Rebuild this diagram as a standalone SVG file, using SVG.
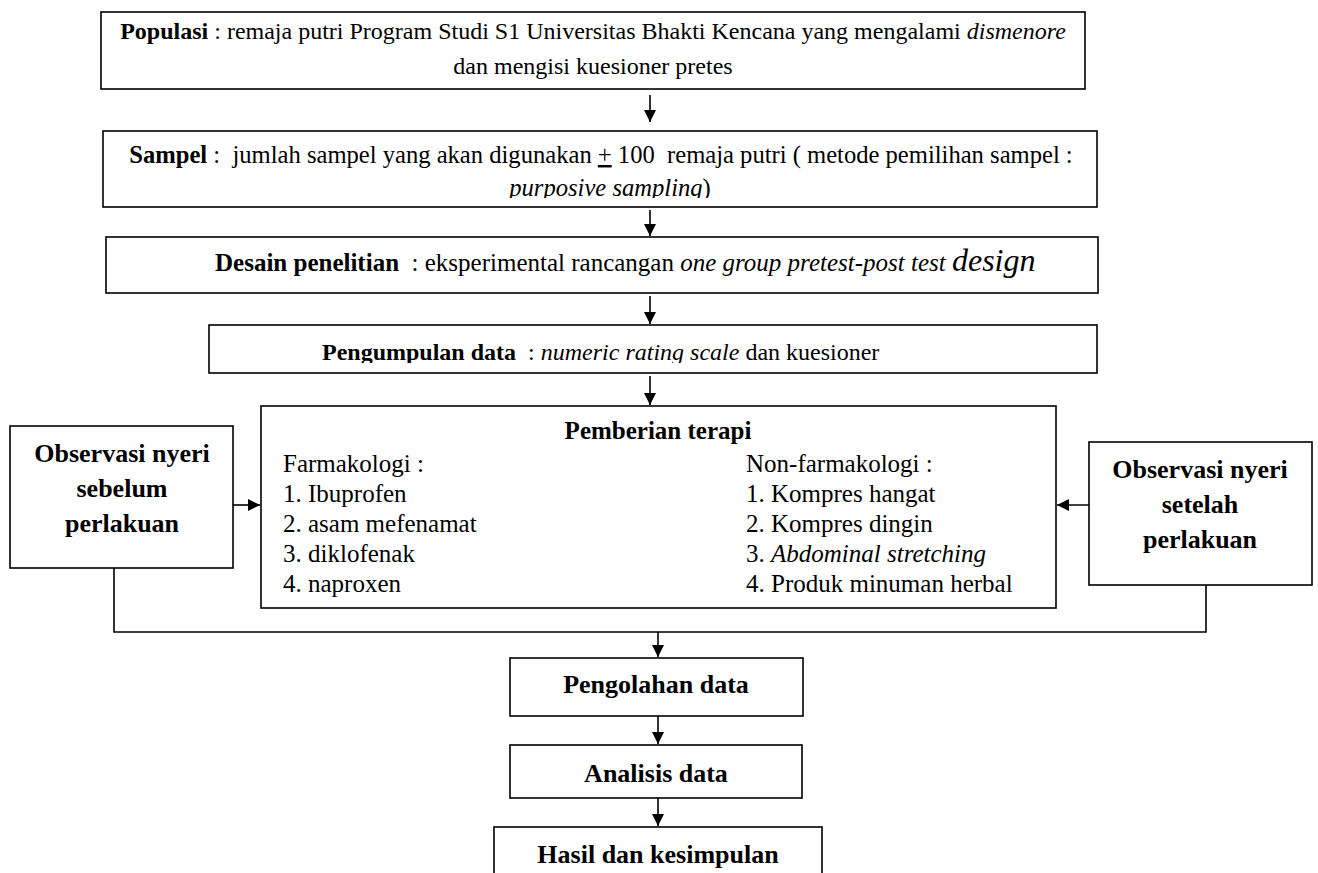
<svg xmlns="http://www.w3.org/2000/svg" width="1318" height="873" viewBox="0 0 1318 873">
<style>
.box{fill:#fff;stroke:#000;stroke-width:1.6}
.conn{stroke:#000;stroke-width:1.6;fill:none}
text{font-family:"Liberation Serif","Times New Roman",serif;fill:#000;white-space:pre}
.b{font-weight:bold}
.i{font-style:italic}
</style>
<defs>
<marker id="ah" markerUnits="userSpaceOnUse" markerWidth="14" markerHeight="14" refX="12" refY="6" orient="auto"><path d="M0,0 L12,6 L0,12 z" fill="#000"/></marker>
<clipPath id="c1"><rect x="101" y="12" width="984" height="68"/></clipPath>
<clipPath id="c2"><rect x="103" y="131" width="994" height="67"/></clipPath>
<clipPath id="c4"><rect x="209" y="325" width="888" height="38"/></clipPath>
</defs>
<rect width="1318" height="873" fill="#fff"/>

<g id="connectors">
<line class="conn" x1="650" y1="95" x2="650" y2="122" marker-end="url(#ah)"/>
<line class="conn" x1="650" y1="210" x2="650" y2="236" marker-end="url(#ah)"/>
<line class="conn" x1="650" y1="296" x2="650" y2="324" marker-end="url(#ah)"/>
<line class="conn" x1="650" y1="376" x2="650" y2="405" marker-end="url(#ah)"/>
<line class="conn" x1="233" y1="505" x2="260" y2="505" marker-end="url(#ah)"/>
<line class="conn" x1="1090" y1="505" x2="1057" y2="505" marker-end="url(#ah)"/>
<polyline class="conn" points="114,568 114,632 1206,632 1206,585"/>
<line class="conn" x1="658" y1="632" x2="658" y2="657" marker-end="url(#ah)"/>
<line class="conn" x1="658" y1="716" x2="658" y2="744" marker-end="url(#ah)"/>
<line class="conn" x1="658" y1="798" x2="658" y2="826" marker-end="url(#ah)"/>
</g>

<g id="populasi">
<rect class="box" x="101" y="12" width="984" height="77"/>
<g clip-path="url(#c1)">
<text x="593" y="39" font-size="24" text-anchor="middle"><tspan class="b">Populasi</tspan> : remaja putri Program Studi S1 Universitas Bhakti Kencana yang mengalami <tspan class="i">dismenore</tspan></text>
<text x="593" y="74" font-size="24" text-anchor="middle">dan mengisi kuesioner pretes</text>
</g>
</g>

<g id="sampel">
<rect class="box" x="103" y="131" width="994" height="76"/>
<g clip-path="url(#c2)">
<text x="601" y="163" font-size="24.6" text-anchor="middle"><tspan class="b">Sampel</tspan> :  jumlah sampel yang akan digunakan <tspan text-decoration="underline">+</tspan> 100  remaja putri ( metode pemilihan sampel :</text>
<text x="610" y="196" font-size="24.6" text-anchor="middle"><tspan class="i">purposive sampling</tspan>)</text>
</g>
</g>

<g id="desain">
<rect class="box" x="106" y="237" width="992" height="56"/>
<text x="215" y="271" font-size="25"><tspan class="b">Desain penelitian</tspan>  : eksperimental rancangan <tspan class="i">one group pretest-post test </tspan><tspan class="i" font-size="32">design</tspan></text>
</g>

<g id="pengumpulan">
<rect class="box" x="209" y="325" width="888" height="48"/>
<g clip-path="url(#c4)">
<text x="322" y="360" font-size="24"><tspan class="b">Pengumpulan data</tspan>  : <tspan class="i">numeric rating scale</tspan> dan kuesioner</text>
</g>
</g>

<g id="pemberian">
<rect class="box" x="261" y="406" width="795" height="202"/>
<text x="658" y="439" font-size="25" text-anchor="middle" class="b">Pemberian terapi</text>
<text x="283" y="472" font-size="25">Farmakologi :</text>
<text x="283" y="502" font-size="25">1. Ibuprofen</text>
<text x="283" y="532" font-size="25">2. asam mefenamat</text>
<text x="283" y="562" font-size="25">3. diklofenak</text>
<text x="283" y="592" font-size="25">4. naproxen</text>
<text x="746" y="472" font-size="25">Non-farmakologi :</text>
<text x="746" y="502" font-size="25">1. Kompres hangat</text>
<text x="746" y="532" font-size="25">2. Kompres dingin</text>
<text x="746" y="562" font-size="25">3. <tspan class="i">Abdominal stretching</tspan></text>
<text x="746" y="592" font-size="25">4. Produk minuman herbal</text>
</g>

<g id="observasi-sebelum">
<rect class="box" x="10" y="426" width="223" height="142"/>
<text x="122" y="462" font-size="26" text-anchor="middle" class="b">Observasi nyeri</text>
<text x="122" y="497" font-size="26" text-anchor="middle" class="b">sebelum</text>
<text x="122" y="532" font-size="26" text-anchor="middle" class="b">perlakuan</text>
</g>

<g id="observasi-setelah">
<rect class="box" x="1089" y="442" width="223" height="143"/>
<text x="1200" y="478" font-size="26" text-anchor="middle" class="b">Observasi nyeri</text>
<text x="1200" y="513" font-size="26" text-anchor="middle" class="b">setelah</text>
<text x="1200" y="548" font-size="26" text-anchor="middle" class="b">perlakuan</text>
</g>

<g id="pengolahan">
<rect class="box" x="510" y="658" width="293" height="58"/>
<text x="656" y="693" font-size="26" text-anchor="middle" class="b">Pengolahan data</text>
</g>

<g id="analisis">
<rect class="box" x="510" y="745" width="292" height="53"/>
<text x="656" y="782" font-size="26" text-anchor="middle" class="b">Analisis data</text>
</g>

<g id="hasil">
<rect class="box" x="494" y="827" width="328" height="60"/>
<text x="658" y="863" font-size="26" text-anchor="middle" class="b">Hasil dan kesimpulan</text>
</g>
</svg>
